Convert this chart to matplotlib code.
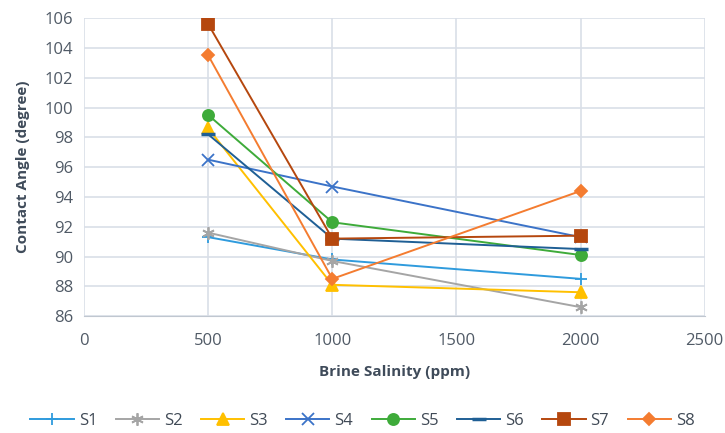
import matplotlib
matplotlib.use("Agg")
import matplotlib.pyplot as plt

# ── data ─────────────────────────────────────
salinity = [500, 1000, 2000]
series_names = ["S1", "S2", "S3", "S4", "S5", "S6", "S7", "S8"]
s1 = [91.3, 89.8, 88.5]
s2 = [91.6, 89.7, 86.6]
s3 = [98.6, 88.1, 87.6]
s4 = [96.5, 94.7, 91.3]
s5 = [99.5, 92.3, 90.1]
s6 = [98.2, 91.2, 90.5]
s7 = [105.6, 91.2, 91.4]
s8 = [103.5, 88.5, 94.4]

series = [s1, s2, s3, s4, s5, s6, s7, s8]
colors = ["#2F9BDD", "#A5A5A5", "#FFC000", "#3B73C8",
          "#3EAB3A", "#1F5F95", "#B5470E", "#F47C30"]
markers = ["+", (6, 2, 0), "^", "x", "o", "_", "s", "D"]
msizes = [9, 9, 8, 8, 8, 10, 9, 6]

plt.rcParams["font.family"] = ["Open Sans", "DejaVu Sans"]

fig = plt.figure(figsize=(7.25, 4.33), dpi=100)
ax = fig.add_axes([0.116, 0.270, 0.856, 0.688])

for vals, name, c, m, ms in zip(series, series_names, colors, markers, msizes):
    mew = 2.5 if m == "_" else 1.3
    ax.plot(salinity, vals, color=c, lw=1.4, marker=m, markersize=ms,
            markeredgewidth=mew, label=name)

ax.set_xlim(0, 2500)
ax.set_ylim(86, 106)
ax.set_xticks(range(0, 2501, 500))
ax.set_yticks(range(86, 107, 2))
ax.grid(True, color="#D9DFE8", lw=1.2)
ax.set_axisbelow(True)
for side in ["top", "right", "left"]:
    ax.spines[side].set_visible(False)
ax.spines["bottom"].set_color("#C0C7D0")
ax.tick_params(length=0, labelsize=12, colors="#505a66")
ax.tick_params(axis="x", pad=12)
ax.tick_params(axis="y", pad=8)

ax.set_xlabel("Brine Salinity (ppm)", fontsize=11, fontweight="bold",
              color="#3F4B5A", labelpad=12)
ax.set_ylabel("Contact Angle (degree)", fontsize=11, fontweight="bold",
              color="#3F4B5A", labelpad=10)

fig.legend(loc="lower center", bbox_to_anchor=(0.5, -0.025), ncol=8,
           frameon=False, fontsize=12, handlelength=2.6, columnspacing=1.1,
           handletextpad=0.3, labelcolor="#404a56")

fig.savefig("out.png", dpi=100)
